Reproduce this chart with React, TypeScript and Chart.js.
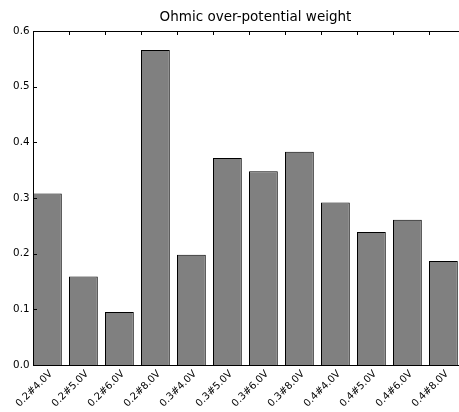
import React, { useEffect, useRef } from "react";
import { Chart, registerables } from "chart.js";

Chart.register(...registerables);

const categories = [
  "0.2#4.0V", "0.2#5.0V", "0.2#6.0V", "0.2#8.0V",
  "0.3#4.0V", "0.3#5.0V", "0.3#6.0V", "0.3#8.0V",
  "0.4#4.0V", "0.4#5.0V", "0.4#6.0V", "0.4#8.0V",
];
const weights = [0.308, 0.159, 0.095, 0.566, 0.198, 0.372, 0.348, 0.383, 0.292, 0.239, 0.261, 0.187];
const yTicks = [0, 0.1, 0.2, 0.3, 0.4, 0.5, 0.6];
const titleText = "Ohmic over-potential weight";

const FONT = "'DejaVu Sans', sans-serif";

const framePlugin = {
  id: "mplFrame",
  afterDraw(chart: any) {
    const { ctx, chartArea } = chart;
    const { left, top, right, bottom } = chartArea;
    const xs = chart.scales.x;
    const ys = chart.scales.y;
    ctx.save();
    ctx.strokeStyle = "#000";
    ctx.lineWidth = 1;
    ctx.beginPath();
    ctx.moveTo(left + 0.5, top + 0.5);
    ctx.lineTo(right - 0.5, top + 0.5);
    ctx.lineTo(right - 0.5, bottom + 0.5);
    ctx.lineTo(left + 0.5, bottom + 0.5);
    ctx.closePath();
    ctx.stroke();
    ctx.beginPath();
    ys.ticks.forEach((t: any) => {
      const y = Math.round(ys.getPixelForValue(t.value)) + 0.5;
      ctx.moveTo(left, y);
      ctx.lineTo(left + 4, y);
      ctx.moveTo(right, y);
      ctx.lineTo(right - 4, y);
    });
    categories.forEach((_, i) => {
      const x = Math.round(xs.getPixelForValue(i)) + 0.5;
      ctx.moveTo(x, top);
      ctx.lineTo(x, top + 4);
      ctx.moveTo(x, bottom);
      ctx.lineTo(x, bottom - 4);
    });
    ctx.stroke();
    ctx.restore();
  },
};

export default function App() {
  const ref = useRef<HTMLCanvasElement | null>(null);
  useEffect(() => {
    if (!ref.current) return;
    const chart = new Chart(ref.current, {
      type: "bar",
      data: {
        datasets: [
          {
            data: weights.map((v, i) => ({ x: i + 0.4, y: v })),
            backgroundColor: "#808080",
            borderColor: "#000000",
            borderWidth: 1,
            categoryPercentage: 0.8,
            barPercentage: 1,
          },
        ],
      },
      options: {
        animation: false,
        responsive: false,
        devicePixelRatio: 1,
        layout: { padding: 0, autoPadding: false },
        plugins: {
          legend: { display: false },
          tooltip: { enabled: false },
          title: {
            display: true,
            text: titleText,
            color: "#000",
            font: { family: FONT, size: 13.5, weight: "normal", lineHeight: 1.2 },
            padding: { top: 9, bottom: 5.8 },
          },
        },
        scales: {
          x: {
            type: "linear",
            min: 0,
            max: 478 / 36,
            offset: false,
            grid: { display: false, drawTicks: false, offset: false },
            border: { display: false },
            afterBuildTicks: (scale: any) => {
              scale.ticks = categories.map((_, i) => ({ value: i }));
            },
            afterFit: (scale: any) => {
              scale.height = 47;
              scale.paddingLeft = 0;
              scale.paddingRight = 0;
            },
            ticks: {
              autoSkip: false,
              minRotation: 45,
              maxRotation: 45,
              labelOffset: 18,
              padding: 3,
              color: "#000",
              font: { family: FONT, size: 10 },
              callback: (_v: any, index: number) => categories[index],
            },
          },
          y: {
            min: 0,
            max: 0.6,
            grid: { display: false, drawTicks: false },
            border: { display: false },
            afterBuildTicks: (scale: any) => {
              scale.ticks = yTicks.map((v) => ({ value: v }));
            },
            afterFit: (scale: any) => {
              scale.width = 33;
            },
            ticks: {
              padding: 3.5,
              color: "#000",
              font: { family: FONT, size: 10.3 },
              callback: (v: any) => Number(v).toFixed(1),
            },
          },
        },
      },
      plugins: [framePlugin],
    } as any);
    return () => chart.destroy();
  }, []);

  return (
    <div
      style={{
        position: "absolute",
        left: 0,
        top: 0,
        width: 459,
        height: 412,
        overflow: "hidden",
        background: "#fff",
      }}
    >
      <canvas ref={ref} width={511} height={412} style={{ display: "block" }} />
    </div>
  );
}
